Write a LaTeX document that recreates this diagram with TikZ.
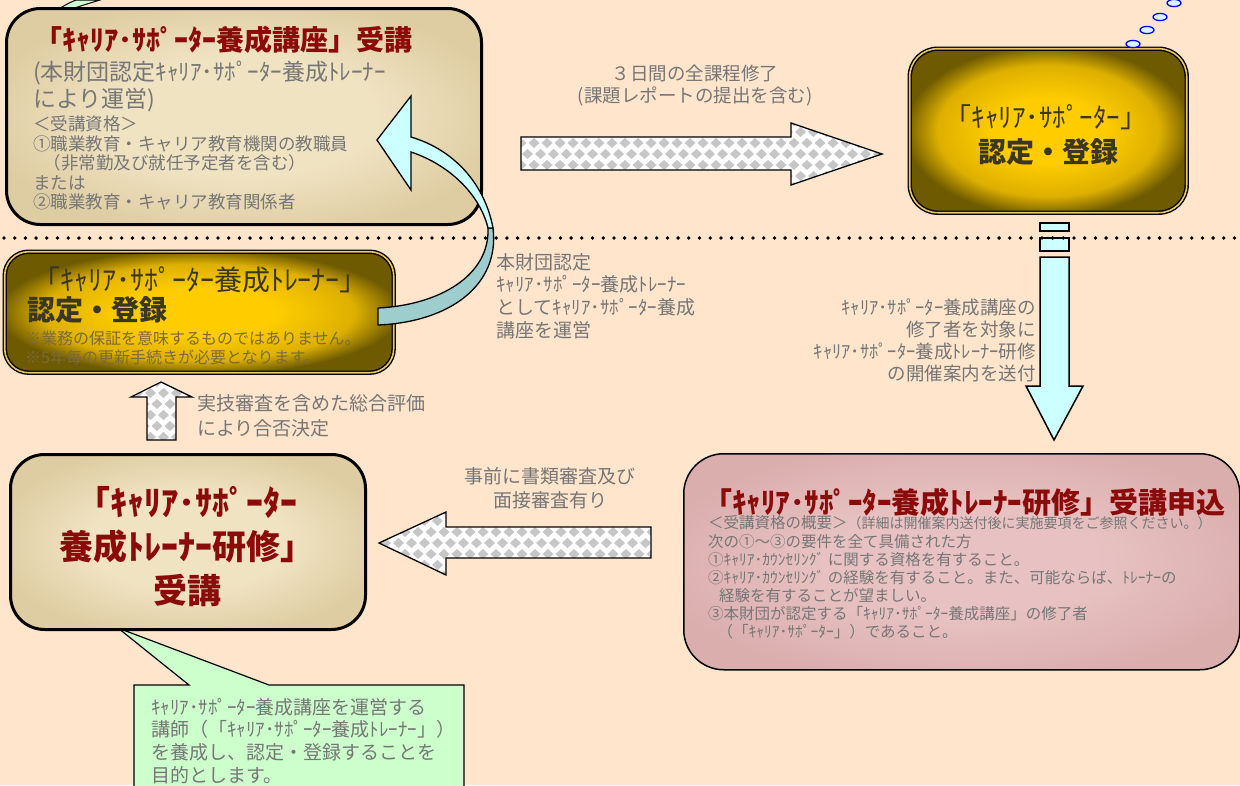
\documentclass[tikz,border=0pt]{standalone}
\usepackage{fontspec}
\setmainfont{Noto Sans CJK JP}
\definecolor{bg}{HTML}{FFE5CC}
\definecolor{txtgray}{HTML}{767676}
\definecolor{darkred}{HTML}{8B0A0A}
\definecolor{goldtxt}{HTML}{3A3620}
\definecolor{noteolive}{HTML}{7A6A3C}
\definecolor{parchIn}{HTML}{F0E3C2}
\definecolor{parchOut}{HTML}{DECCA2}
\definecolor{goldIn}{HTML}{FFCC00}
\definecolor{goldMid}{HTML}{DDB000}
\definecolor{goldOut}{HTML}{6E5A00}
\definecolor{pinkIn}{HTML}{E8C2C2}
\definecolor{pinkOut}{HTML}{DBAEAE}
\definecolor{cyanl}{HTML}{CCFFFF}
\definecolor{tealdark}{HTML}{9ECDCD}
\definecolor{calloutgreen}{HTML}{CCFFCC}
\definecolor{dmgray}{HTML}{C6C6C6}
\definecolor{goldline}{HTML}{E8C66A}
\pgfdeclareradialshading{goldsh}{\pgfpointorigin}{color(0bp)=(goldIn); color(10bp)=(goldIn); color(20bp)=(goldMid); color(26bp)=(goldOut); color(50bp)=(goldOut)}
\pgfdeclareradialshading{parchsh}{\pgfpointorigin}{color(0bp)=(parchIn); color(14bp)=(parchIn); color(28bp)=(parchOut); color(50bp)=(parchOut)}
\pgfdeclareradialshading{pinksh}{\pgfpointorigin}{color(0bp)=(pinkIn); color(12bp)=(pinkIn); color(28bp)=(pinkOut); color(50bp)=(pinkOut)}
\newcommand\dmfill[4]{%
  \pgfmathtruncatemacro\dmnx{(#3-#1)/13+1}%
  \pgfmathtruncatemacro\dmny{(#4-#2)/11+1}%
  \foreach \dmi in {-1,...,\dmnx}{%
    \foreach \dmj in {0,...,\dmny}{%
      \pgfmathsetmacro\dmx{#1+\dmi*13+6.5*mod(\dmj,2)}%
      \pgfmathsetmacro\dmy{#2+\dmj*11}%
      \fill[dmgray] (\dmx-5.5,\dmy) -- (\dmx,\dmy-5) -- (\dmx+5.5,\dmy) -- (\dmx,\dmy+5) -- cycle;
    }}}
\begin{document}
\begin{tikzpicture}[x=1pt,y=-1pt,
  parchbox/.style={shade, shading=parchsh, draw=black, line width=3pt, rounded corners=34pt, anchor=north west, inner sep=0pt},
  goldbox/.style={shade, shading=goldsh, draw=black, line width=1.4pt, double=goldline, double distance=1.6pt, rounded corners=28pt, anchor=north west, inner sep=0pt},
  pinkbox/.style={shade, shading=pinksh, draw=black, line width=1.5pt, rounded corners=40pt, anchor=north west, inner sep=0pt},
  txt/.style={inner sep=0pt, text=txtgray, align=left},
  blockarrow/.style={draw=black, line width=1.3pt, line join=miter},
  cyanarrow/.style={fill=cyanl, draw=black, line width=1.5pt},
  bubble/.style={fill=white!85!cyan, draw=blue, line width=1.3pt}
]
\useasboundingbox (0,0) rectangle (1240,785);
\fill[bg] (0,0) rectangle (1240,785);

% stray green sliver at top-left
\filldraw[fill=calloutgreen, line width=1pt] (48,18) .. controls (56,10) and (66,4) .. (76,0) -- (100,0) .. controls (80,6) and (62,12) .. (48,18) -- cycle;

% green callout (under the course box)
\filldraw[fill=calloutgreen, draw=black, line width=1.2pt] (134,792) -- (134,685) -- (189,685) -- (118,628) -- (269,685) -- (464,685) -- (464,792);

% boxes
\node[parchbox, minimum width=475pt, minimum height=216pt] (kouza) at (5,7) {};
\node[goldbox, minimum width=277pt, minimum height=164pt] (supporter) at (909,48) {};
\node[goldbox, rounded corners=24pt, minimum width=389pt, minimum height=121pt] (trainer) at (4,251) {};
\node[parchbox, minimum width=355pt, minimum height=175pt] (kenshu) at (9,453) {};
\node[pinkbox, minimum width=556pt, minimum height=216pt] (moushikomi) at (683,453) {};

% thought bubbles
\filldraw[bubble] (1133,44) ellipse [x radius=7pt, y radius=3.6pt];
\filldraw[bubble] (1147,30) ellipse [x radius=7pt, y radius=3.6pt];
\filldraw[bubble] (1160,17) ellipse [x radius=7pt, y radius=3.6pt];
\filldraw[bubble] (1174,3) ellipse [x radius=7pt, y radius=3.6pt];

% right block arrow (patterned)
\begin{scope}
  \clip (521,137) -- (791,137) -- (791,123) -- (882,154) -- (791,185) -- (791,170) -- (521,170) -- cycle;
  \fill[white] (515,118) rectangle (890,190);
  \dmfill{521}{121}{882}{188}
\end{scope}
\draw[blockarrow] (521,137) -- (791,137) -- (791,123) -- (882,154) -- (791,185) -- (791,170) -- (521,170) -- cycle;

% left block arrow (patterned)
\begin{scope}
  \clip (379,543) -- (446,512) -- (446,527) -- (651,527) -- (651,558) -- (446,558) -- (446,575) -- cycle;
  \fill[white] (370,505) rectangle (660,580);
  \dmfill{379}{510}{651}{578}
\end{scope}
\draw[blockarrow] (379,543) -- (446,512) -- (446,527) -- (651,527) -- (651,558) -- (446,558) -- (446,575) -- cycle;

% up block arrow (patterned)
\begin{scope}
  \clip (161,382) -- (192,397) -- (176,397) -- (176,440) -- (147,440) -- (147,397) -- (131,397) -- cycle;
  \fill[white] (125,375) rectangle (200,445);
  \dmfill{131}{382}{192}{442}
\end{scope}
\draw[blockarrow] (161,382) -- (192,397) -- (176,397) -- (176,440) -- (147,440) -- (147,397) -- (131,397) -- cycle;

% down cyan arrow
\filldraw[cyanarrow] (1040,223) rectangle (1069,231);
\filldraw[cyanarrow] (1040,238) rectangle (1069,251);
\filldraw[cyanarrow] (1040,257) -- (1069,257) -- (1069,386) -- (1083,386) -- (1054,440) -- (1026,386) -- (1040,386) -- cycle;

% dotted separator
\draw[line width=3.8pt, dash pattern=on 0pt off 10.7pt, line cap=round] (4,238) -- (1240,238);

% curved arrow (trainer -> course)
\filldraw[fill=tealdark, draw=black, line width=1.3pt, line join=round] (493,228) .. controls (500,285) and (450,322) .. (378,325) -- (378,308) .. controls (440,305) and (490,275) .. (488,228) -- cycle;
\filldraw[fill=cyanl, draw=black, line width=1.3pt, line join=miter] (411,137) .. controls (455,150) and (485,185) .. (493,228) -- (488,228) .. controls (480,195) and (450,165) .. (411,152) -- (411,190) -- (377,140) -- (411,96) -- cycle;

% ---- texts (anchor base = baseline of the LAST line) ----
\node[txt, anchor=base west, text=darkred, font=\bfseries\fontsize{28}{30}\selectfont] (kouzaT) at (34,50.6) {「ｷｬﾘｱ･ｻﾎﾟｰﾀｰ養成講座」受講};
\node[txt, anchor=base west, font=\fontsize{23}{27}\selectfont] (kouzaS) at (33,107.7) {(本財団認定ｷｬﾘｱ･ｻﾎﾟｰﾀｰ養成ﾄﾚｰﾅｰ\\により運営)};
\node[txt, anchor=base west, font=\fontsize{17.5}{19.5}\selectfont] (kouzaQ) at (33,208.6) {＜受講資格＞\\①職業教育・キャリア教育機関の教職員\\\hspace*{0.6em}（非常勤及び就任予定者を含む）\\または\\②職業教育・キャリア教育関係者};

\node[txt, anchor=base, align=center, font=\fontsize{18.5}{22}\selectfont] (arrowT) at (695,102) {３日間の全課程修了\\(課題レポートの提出を含む)};

\node[txt, anchor=base, text=goldtxt, font=\fontsize{27}{28}\selectfont] (supT) at (1046,127.8) {「ｷｬﾘｱ･ｻﾎﾟｰﾀｰ」};
\node[txt, anchor=base, text=goldtxt, font=\bfseries\fontsize{28}{30}\selectfont] (supR) at (1048,162.6) {認定・登録};

\node[txt, anchor=base, text=goldtxt, font=\fontsize{28}{28}\selectfont] (trT) at (200,290.6) {「ｷｬﾘｱ･ｻﾎﾟｰﾀｰ養成ﾄﾚｰﾅｰ」};
\node[txt, anchor=base west, text=goldtxt, font=\bfseries\fontsize{28}{30}\selectfont] (trR) at (27,320.6) {認定・登録};
\node[txt, anchor=base west, text=noteolive, font=\fontsize{16}{19}\selectfont] (trN) at (25,363.1) {※業務の保証を意味するものではありません。\\※5年毎の更新手続きが必要となります。};

\node[txt, anchor=base west, font=\fontsize{19}{22.7}\selectfont] (unei) at (496,337.3) {本財団認定\\ｷｬﾘｱ･ｻﾎﾟｰﾀｰ養成ﾄﾚｰﾅｰ\\としてｷｬﾘｱ･ｻﾎﾟｰﾀｰ養成\\講座を運営};

\node[txt, anchor=base east, align=right, font=\fontsize{18.5}{22}\selectfont] (annai) at (1036,380) {ｷｬﾘｱ･ｻﾎﾟｰﾀｰ養成講座の\\修了者を対象に\\ｷｬﾘｱ･ｻﾎﾟｰﾀｰ養成ﾄﾚｰﾅｰ研修\\の開催案内を送付};

\node[txt, anchor=base west, font=\fontsize{19}{25}\selectfont] (hyouka) at (197,435.2) {実技審査を含めた総合評価\\により合否決定};

\node[txt, anchor=base, align=center, font=\fontsize{19}{24}\selectfont] (shinsa) at (550,507.2) {事前に書類審査及び\\面接審査有り};

\node[txt, anchor=base, align=center, text=darkred, font=\bfseries\fontsize{34}{44}\selectfont] (kenshuT) at (187,603) {「ｷｬﾘｱ･ｻﾎﾟｰﾀｰ\\養成ﾄﾚｰﾅｰ研修」\\受講};

\node[txt, anchor=base west, text=darkred, font=\bfseries\fontsize{29}{30}\selectfont] (moT) at (703,513) {「ｷｬﾘｱ･ｻﾎﾟｰﾀｰ養成ﾄﾚｰﾅｰ研修」受講申込};
\node[txt, anchor=base west, font=\fontsize{15.5}{18.1}\selectfont] (moQ) at (708,637.5) {＜受講資格の概要＞{\fontsize{14}{18.1}\selectfont（詳細は開催案内送付後に実施要項をご参照ください。）}\\次の①～③の要件を全て具備された方\\①ｷｬﾘｱ･ｶｳﾝｾﾘﾝｸﾞ に関する資格を有すること。\\②ｷｬﾘｱ･ｶｳﾝｾﾘﾝｸﾞ の経験を有すること。また、可能ならば、ﾄﾚｰﾅｰの\\\hspace*{0.7em}経験を有することが望ましい。\\③本財団が認定する「ｷｬﾘｱ･ｻﾎﾟｰﾀｰ養成講座」の修了者\\\hspace*{0.6em}（「ｷｬﾘｱ･ｻﾎﾟｰﾀｰ」）であること。};

\node[txt, anchor=base west, font=\fontsize{19}{22.6}\selectfont] (mokuteki) at (151,782) {ｷｬﾘｱ･ｻﾎﾟｰﾀｰ養成講座を運営する\\講師（「ｷｬﾘｱ･ｻﾎﾟｰﾀｰ養成ﾄﾚｰﾅｰ」）\\を養成し、認定・登録することを\\目的とします。};
\end{tikzpicture}
\end{document}
